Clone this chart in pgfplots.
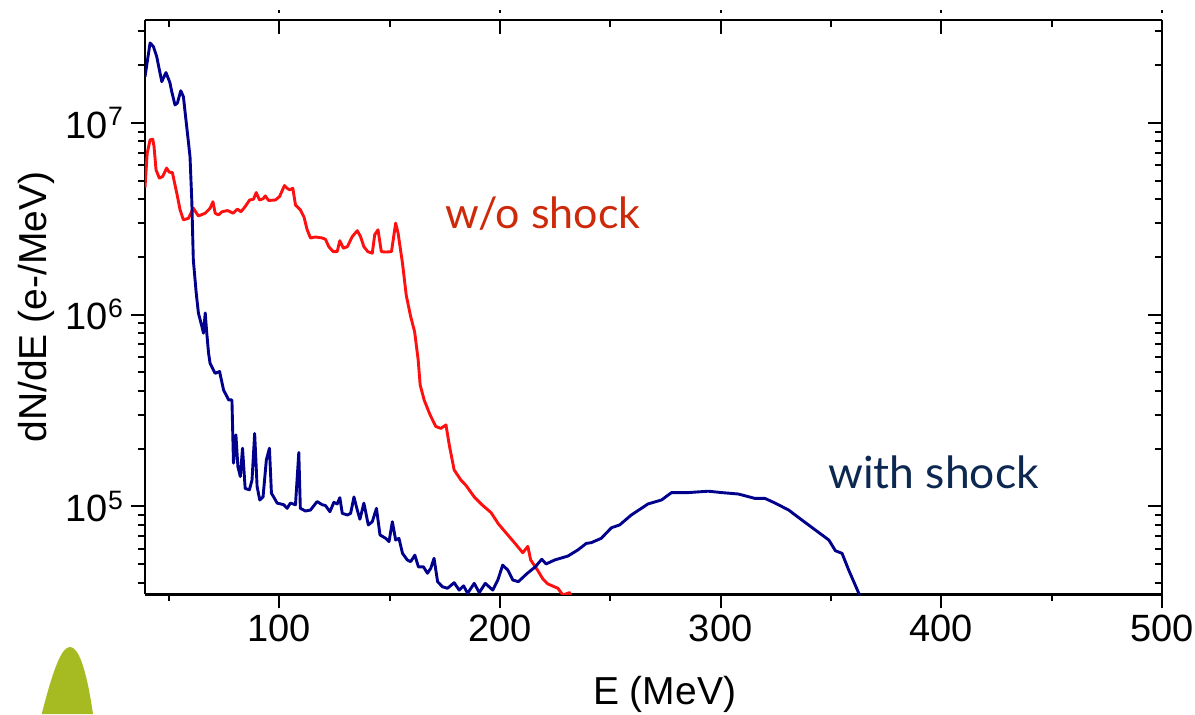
\documentclass[border=0pt]{standalone}
\usepackage{fontspec}
\setmainfont{Liberation Sans}
\newfontfamily\annot{Lato}
\usepackage{pgfplots}
\pgfplotsset{compat=1.18}
\definecolor{shockblue}{RGB}{0,0,140}
\definecolor{noshockred}{RGB}{255,16,16}
\definecolor{labelred}{RGB}{204,42,10}
\definecolor{labelnavy}{RGB}{12,40,80}
\definecolor{leafgreen}{RGB}{166,186,34}

\begin{document}
\begin{tikzpicture}[x=1pt,y=1pt]
\useasboundingbox (0,0) rectangle (597.5,357);

% leaf ornament, lower left corner
\fill[leafgreen] (20.85,0) .. controls (27,24) and (31,33.5) .. (35,33.5)
  .. controls (39,33.5) and (43,24) .. (46.5,0) -- cycle;

\begin{axis}[
  ymode=log,
  xmin=39.1, xmax=500, ymin=3.48e4, ymax=3.44e7,
  scale only axis, width=508.5pt, height=287.15pt,
  at={(72.5pt,59.85pt)}, anchor=south west,
  axis x line*=bottom, axis y line*=left,
  axis line style={line width=1.3pt,-},
  tick align=outside,
  major tick length=7pt, minor tick length=3.5pt,
  major tick style={line width=1pt,black},
  minor tick style={line width=1pt,black},
  xtick={100,200,300,400,500},
  minor xtick={50,150,250,350,450},
  ytick={1e5,1e6,1e7},
  minor ytick={4e4,5e4,6e4,7e4,8e4,9e4,
               2e5,3e5,4e5,5e5,6e5,7e5,8e5,9e5,
               2e6,3e6,4e6,5e6,6e6,7e6,8e6,9e6,
               2e7,3e7},
  xticklabels={100,200,300,400,500},
  yticklabels={10\textsuperscript{5},10\textsuperscript{6},10\textsuperscript{7}},
  tick label style={font=\fontsize{19}{19}\selectfont},
  xlabel={E (MeV)}, ylabel={dN/dE (e-/MeV)},
  label style={font=\fontsize{19.5}{20}\selectfont},
  xlabel style={at={(axis description cs:0.511,0)}, anchor=base, yshift=-55.35pt},
  ylabel style={at={(axis description cs:-0.1067,0.5)}, anchor=center},
]
% without shock
\addplot[noshockred, line width=1.45pt, line join=round] coordinates {
(39.1,4.6e6) (40.1,6.95e6) (41.4,8.15e6) (42.6,8.22e6) (43.2,7.52e6)
(44.1,5.69e6) (45.6,5.15e6) (47.1,5.25e6) (48.9,5.81e6) (50.1,5.53e6)
(51.5,5.51e6) (53.5,4.30e6) (55.0,3.52e6) (56.5,3.12e6) (58.8,3.18e6)
(61.0,3.59e6) (63.3,3.27e6) (66.4,3.38e6) (68.6,3.59e6) (69.9,3.88e6)
(70.9,3.38e6) (72.4,3.31e6) (74.0,3.44e6) (76.5,3.49e6) (79.0,3.38e6)
(81.0,3.55e6) (82.6,3.44e6) (84.5,3.66e6) (86.5,3.96e6) (88.3,4.00e6)
(89.5,4.33e6) (91.0,3.96e6) (92.6,4.02e6) (93.6,4.16e6) (95.1,3.94e6)
(98.2,3.96e6) (100.1,4.13e6) (102.3,4.71e6) (103.5,4.56e6) (104.7,4.47e6)
(106.1,4.56e6) (107.3,3.73e6) (109.5,3.52e6) (111.1,3.24e6) (112.6,2.77e6)
(114.1,2.51e6) (116.4,2.54e6) (119.4,2.51e6) (120.9,2.47e6) (122.4,2.26e6)
(124.4,2.13e6) (126.2,2.13e6) (127.4,2.43e6) (129.0,2.22e6) (130.8,2.26e6)
(133.0,2.55e6) (135.3,2.74e6) (136.8,2.55e6) (138.3,2.26e6) (140.1,2.13e6)
(142.1,2.09e6) (143.2,2.61e6) (144.7,2.77e6) (146.2,2.13e6) (148.2,2.12e6)
(150.8,2.13e6) (152.7,3.00e6) (153.8,2.66e6) (155.8,1.85e6) (157.5,1.26e6)
(159.5,9.77e5) (161.3,8.13e5) (162.9,5.81e5) (163.8,4.30e5) (165.6,3.59e5)
(168.3,3.00e5) (170.9,2.61e5) (173.2,2.55e5) (175.5,2.66e5) (177.0,2.09e5)
(179.2,1.55e5) (182.3,1.37e5) (184.5,1.29e5) (188.3,1.12e5) (191.8,1.02e5)
(195.9,9.29e4) (199.3,8.09e4) (203.1,7.19e4) (206.8,6.41e4) (210.3,5.73e4)
(212.6,6.19e4) (213.9,5.25e4) (216.7,4.71e4) (219.5,4.17e4) (221.7,3.94e4)
(226.2,3.74e4) (228.5,3.45e4) (231.5,3.55e4) (233.0,3.16e4) (238.0,2.5e4)
};
% with shock
\addplot[shockblue, line width=1.45pt, line join=round] coordinates {
(39.1,1.74e7) (41.4,2.61e7) (42.9,2.50e7) (44.4,2.22e7) (46.7,1.64e7)
(48.6,1.83e7) (50.4,1.62e7) (51.2,1.46e7) (52.7,1.24e7) (53.8,1.27e7)
(55.3,1.47e7) (56.5,1.37e7) (58.0,9.57e6) (59.5,6.67e6) (60.3,3.96e6)
(61.0,1.93e6) (62.3,1.30e6) (63.3,1.02e6) (64.9,8.65e5) (65.6,8.00e5)
(66.4,1.02e6) (67.1,8.00e5) (67.9,6.30e5) (68.6,5.57e5) (70.9,4.94e5)
(72.9,5.05e5) (74.7,4.05e5) (77.0,3.59e5) (78.5,3.59e5) (79.2,1.68e5)
(80.3,2.36e5) (81.2,1.61e5) (82.3,1.43e5) (83.3,2.01e5) (84.5,1.24e5)
(86.4,1.22e5) (87.6,1.37e5) (88.8,2.40e5) (89.9,1.27e5) (91.1,1.08e5)
(92.6,1.12e5) (94.1,1.75e5) (95.5,2.01e5) (96.4,1.17e5) (97.4,1.12e5)
(99.0,1.04e5) (102.0,1.02e5) (103.5,9.77e4) (105.0,1.04e5) (107.3,1.02e5)
(108.8,1.91e5) (109.5,9.77e4) (111.8,9.46e4) (114.1,9.57e4) (117.1,1.06e5)
(119.4,1.02e5) (120.9,1.01e5) (122.9,9.38e4) (124.7,1.05e5) (126.2,1.03e5)
(127.4,1.11e5) (128.5,9.20e4) (130.8,9.02e4) (132.3,9.20e4) (133.8,1.12e5)
(135.3,9.57e4) (136.5,8.57e4) (138.3,1.04e5) (140.3,8.00e4) (142.1,8.32e4)
(144.0,9.77e4) (145.6,7.10e4) (148.2,6.81e4) (149.7,6.55e4) (151.2,8.32e4)
(152.7,6.68e4) (154.2,6.81e4) (155.8,5.69e4) (158.0,5.25e4) (159.5,5.15e4)
(161.4,5.57e4) (163.0,4.84e4) (165.3,4.84e4) (167.1,4.48e4) (168.6,4.75e4)
(170.1,5.36e4) (171.7,4.05e4) (173.9,3.81e4) (176.2,3.74e4) (179.2,4.00e4)
(181.5,3.66e4) (183.5,3.85e4) (185.3,3.52e4) (188.3,3.97e4) (190.6,3.55e4)
(193.3,3.97e4) (196.7,3.66e4) (199.0,4.13e4) (201.2,4.94e4) (203.5,4.66e4)
(205.8,4.13e4) (208.3,4.05e4) (212.2,4.46e4) (216.0,4.84e4) (218.9,5.30e4)
(220.9,5.01e4) (224.7,5.25e4) (230.8,5.51e4) (235.3,5.93e4) (239.1,6.41e4)
(241.4,6.47e4) (245.9,6.82e4) (250.5,7.74e4) (254.2,8.00e4) (259.5,9.02e4)
(267.1,1.03e5) (273.2,1.08e5) (277.7,1.18e5) (285.3,1.18e5) (294.4,1.20e5)
(300.5,1.18e5) (308.0,1.16e5) (315.6,1.10e5) (320.1,1.10e5) (324.7,1.04e5)
(330.8,9.57e4) (336.8,8.49e4) (342.9,7.53e4) (349.0,6.68e4) (352.0,5.87e4)
(355.0,5.69e4) (358.0,4.66e4) (362.6,3.52e4) (365.0,3.0e4)
};
\end{axis}

% top and right frame with inward ticks, plus the small marks above the top edge
\begin{axis}[
  ymode=log,
  xmin=39.1, xmax=500, ymin=3.48e4, ymax=3.44e7,
  scale only axis, width=508.5pt, height=287.15pt,
  at={(72.5pt,59.85pt)}, anchor=south west,
  axis x line*=top, axis y line*=right,
  axis line style={line width=1.3pt,-},
  tick align=inside,
  major tick length=7pt, minor tick length=3.5pt,
  major tick style={line width=1pt,black},
  minor tick style={line width=1pt,black},
  xtick={100,200,300,400,500},
  minor xtick={50,150,250,350,450},
  ytick={1e5,1e6,1e7},
  minor ytick={4e4,5e4,6e4,7e4,8e4,9e4,
               2e5,3e5,4e5,5e5,6e5,7e5,8e5,9e5,
               2e6,3e6,4e6,5e6,6e6,7e6,8e6,9e6,
               2e7,3e7},
  xticklabels={}, yticklabels={},
  extra x ticks={100,200,300,400,500},
  extra x tick labels={},
  extra x tick style={tick align=outside, major tick length=1.5pt,
    major tick style={line width=1.1pt, black, yshift=3.5pt}},
]
\end{axis}

\node[anchor=base, font=\annot\fontsize{21.5}{22}\selectfont, text=labelred]
  at (271.5,242.85) {w/o shock};
\node[anchor=base, font=\annot\fontsize{22.2}{23}\selectfont, text=labelnavy]
  at (466.8,112.85) {with shock};
\end{tikzpicture}
\end{document}
